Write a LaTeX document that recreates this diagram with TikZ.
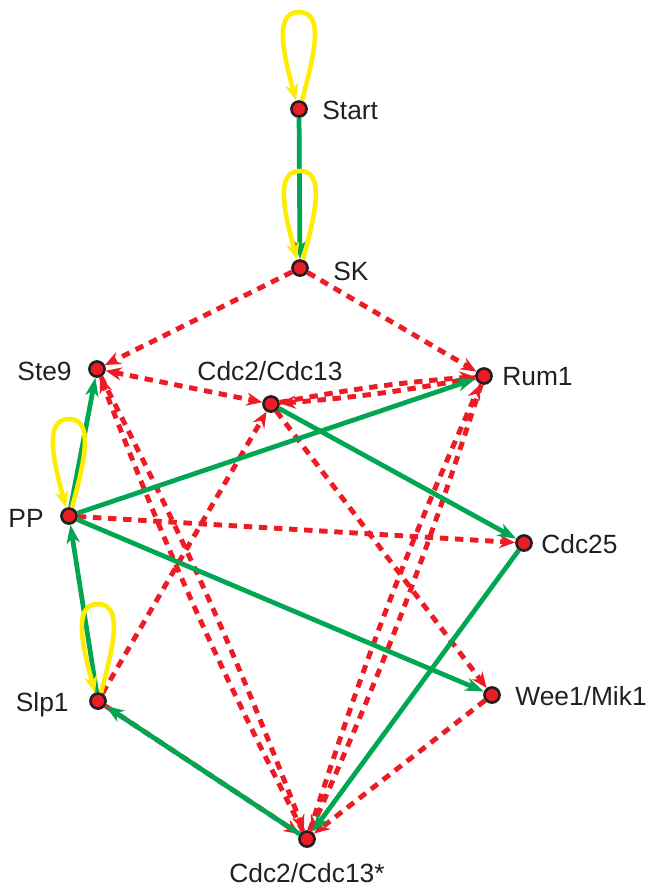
\documentclass[tikz,border=0pt]{standalone}
\usepackage{fontspec}
\setmainfont{Liberation Sans}
\usetikzlibrary{arrows.meta}

\definecolor{netred}{RGB}{237,28,36}
\definecolor{netgreen}{RGB}{0,166,81}
\definecolor{netyellow}{RGB}{255,236,0}
\definecolor{netink}{RGB}{35,31,32}

\tikzset{
  state/.style={circle, draw=netink, line width=1.5pt, fill=netred, inner sep=0pt, minimum size=8.6pt},
  act/.style={color=netgreen, line width=2.7pt, -{Stealth[length=10.5pt,width=7.5pt,inset=3pt]}},
  inh/.style={color=netred, line width=2.8pt, dash pattern=on 4.8pt off 3.8pt, -{Stealth[length=9pt,width=7.5pt,inset=3pt]}},
  inhboth/.style={inh, {Stealth[length=9pt,width=7.5pt,inset=3pt]}-{Stealth[length=9pt,width=7.5pt,inset=3pt]}},
  self/.style={color=netyellow, line width=2.6pt, -{Stealth[length=9.5pt,width=7.5pt,inset=3pt]}},
  lbl/.style={font=\fontsize{15}{18}\selectfont, text=netink, inner sep=0pt}
}

\begin{document}
\begin{tikzpicture}[x=0.02cm, y=-0.02cm]

\useasboundingbox (0,0) rectangle (648,887);

% states
\node [state] (start) at (299,109) {};
\node [state] (sk) at (300,268) {};
\node [state] (ste9) at (97,369) {};
\node [state] (cdc) at (271,404) {};
\node [state] (rum1) at (484,376) {};
\node [state] (pp) at (69,516) {};
\node [state] (cdc25) at (524,543) {};
\node [state] (slp1) at (98,701) {};
\node [state] (wee1) at (492,695) {};
\node [state] (cdcs) at (307,839) {};

\node [lbl, anchor=base west] (startlbl) at (322,119) {Start};
\node [lbl, anchor=base west] (sklbl) at (333,280) {SK};
\node [lbl, anchor=base east] (ste9lbl) at (72,380) {Ste9};
\node [lbl, anchor=base] (cdclbl) at (270,380) {Cdc2/Cdc13};
\node [lbl, anchor=base west] (rum1lbl) at (502,385) {Rum1};
\node [lbl, anchor=base east] (pplbl) at (44,527) {PP};
\node [lbl, anchor=base west] (cdc25lbl) at (541,553) {Cdc25};
\node [lbl, anchor=base east] (slp1lbl) at (69,711) {Slp1};
\node [lbl, anchor=base west] (wee1lbl) at (515,705) {Wee1/Mik1};
\node [lbl, anchor=base] (cdcslbl) at (307,882) {Cdc2/Cdc13*};

% inhibitions
\draw [inh] (sk) -- (ste9);
\draw [inh] (sk) -- (rum1);
\draw [inhboth] (ste9) -- (cdc);
\draw [inh] (rum1) to [bend left=3] (cdc);
\draw [inh] (cdc) to [bend left=3] (rum1);
\draw [inh] (ste9) to [bend left=3] (cdcs);
\draw [inh] (cdcs) to [bend left=3] (ste9);
\draw [inh] (rum1) to [bend left=3] (cdcs);
\draw [inh] (cdcs) to [bend left=3] (rum1);
\draw [inh] (slp1) -- (cdc);
\draw [inh] (slp1) -- (cdcs);
\draw [inh] (pp) -- (cdc25);
\draw [inh] (cdc) -- (wee1);
\draw [inh] (wee1) -- (cdcs);

% activations
\draw [act] (start) -- (sk);
\draw [act] (pp) -- (ste9);
\draw [act] (pp) -- (rum1);
\draw [act] (pp) -- (wee1);
\draw [act] (slp1) -- (pp);
\draw [act] (cdcs) -- (slp1);
\draw [act] (cdc) -- (cdc25);
\draw [act] (cdc25) -- (cdcs);

% self loops
\foreach \s in {start,sk,pp,slp1} {
  \draw [self] (\s.70) .. controls +(12,-45) and +(26,0) .. ([yshift=1.94cm]\s.center)
    .. controls +(-26,0) and +(-12,-45) .. (\s.110);
}

\end{tikzpicture}
\end{document}
